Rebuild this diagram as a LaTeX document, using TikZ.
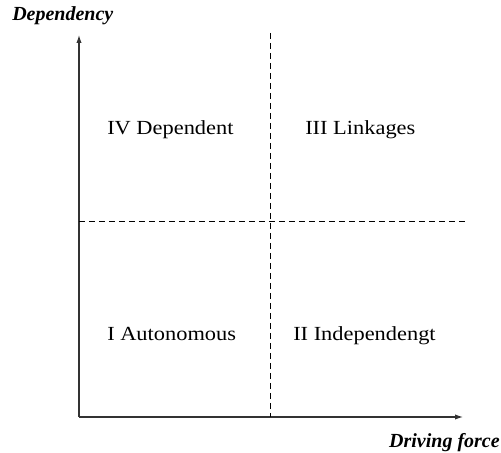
\documentclass[tikz,border=0pt]{standalone}
\usepackage{fontspec}
\setmainfont{Liberation Serif}
\usetikzlibrary{arrows.meta, positioning}

% quadrant names are set a little wider than the font
\newcommand{\quadtext}[1]{\scalebox{1.12}[1]{#1}}

\begin{document}
\begin{tikzpicture}[x=0.75pt, y=-0.75pt,
  >={Latex[length=6pt,width=4pt]},
  quadlabel/.style={anchor=base west, inner sep=0pt, font=\fontsize{15}{18}\selectfont},
  axislabel/.style={inner sep=0pt, font=\fontsize{15}{18}\selectfont\bfseries\itshape},
  divider/.style={dash pattern=on 4.5pt off 3pt, line width=0.6pt}]

\useasboundingbox (0,0) rectangle (501,453);

% Axes
\coordinate (O) at (79,417);
\coordinate (ytop) at (79,35);
\coordinate (xend) at (463,417);
\draw[->, line width=0.8pt, black!80] (O) -- (ytop);
\draw[->, line width=0.8pt, black!80] (O) -- (xend);
\node[axislabel, anchor=base west] (dep) at (12,21) {Dependency};
\node[axislabel, anchor=base east] (drive) at (500,447) {Driving force};

% Quadrant dividers
\coordinate (vtop) at (270,33);
\coordinate (vbot) at (270,417);
\coordinate (hleft) at (79,221);
\coordinate (hright) at (465,221);
\draw[divider] (vtop) -- (vbot);
\draw[divider] (hleft) -- (hright);

% Quadrant labels
\node[quadlabel] (q4) at (107,135) {\quadtext{IV Dependent}};
\node[quadlabel] (q3) at (305,135) {\quadtext{III Linkages}};
\node[quadlabel] (q1) at (107,341) {\quadtext{I Autonomous}};
\node[quadlabel] (q2) at (293,341) {\quadtext{II Independengt}};

\end{tikzpicture}
\end{document}
